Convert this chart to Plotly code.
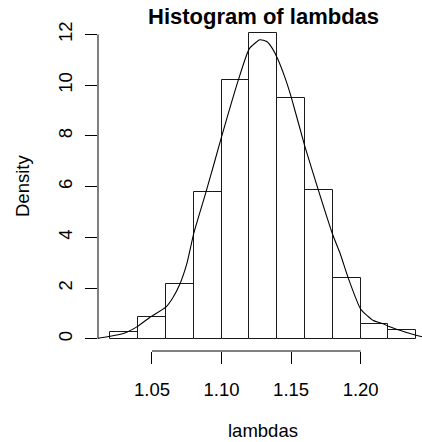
import plotly.graph_objects as go

# Histogram data (density scale)
bin_edges = [1.02, 1.04, 1.06, 1.08, 1.10, 1.12, 1.14, 1.16, 1.18, 1.20, 1.22, 1.24]
densities = [0.25, 0.85, 2.15, 5.8, 10.2, 12.05, 9.5, 5.85, 2.4, 0.6, 0.35]

# Kernel density curve
dens_x = [1.0112, 1.02, 1.03, 1.04, 1.0486, 1.06, 1.065, 1.07, 1.075, 1.08, 1.0888,
          1.0953, 1.10, 1.112, 1.12, 1.1276, 1.1325, 1.1365, 1.14, 1.1456, 1.15,
          1.16, 1.1696, 1.18, 1.1852, 1.1911, 1.20, 1.2091, 1.2163, 1.2204, 1.233, 1.2441]
dens_y = [0.02, 0.1, 0.22, 0.5, 0.85, 1.25, 1.62, 2.15, 2.95, 4.15, 5.78,
          7.04, 7.96, 10.19, 11.44, 11.79, 11.72, 11.45, 11.08, 10.3, 9.55,
          7.57, 5.86, 4.09, 3.37, 2.39, 1.17, 0.72, 0.59, 0.48, 0.25, 0.08]

x_ticks = [1.05, 1.10, 1.15, 1.20]
x_tick_labels = ["1.05", "1.10", "1.15", "1.20"]
y_ticks = [0, 2, 4, 6, 8, 10, 12]
y_tick_labels = ["0", "2", "4", "6", "8", "10", "12"]

title_text = "Histogram of lambdas"
x_label = "lambdas"
y_label = "Density"

FONT = "Liberation Sans, Arial, Helvetica, sans-serif"
W, H = 422, 442
ML, MR, MT, MB = 98, 0, 20.5, 91

centers = [(a + b) / 2 for a, b in zip(bin_edges[:-1], bin_edges[1:])]
widths = [b - a for a, b in zip(bin_edges[:-1], bin_edges[1:])]

fig = go.Figure()
fig.add_trace(go.Bar(
    x=centers, y=densities, width=widths,
    marker=dict(color="white", line=dict(color="#1a1a1a", width=1)),
    hoverinfo="skip", showlegend=False,
))
fig.add_trace(go.Scatter(
    x=dens_x, y=dens_y, mode="lines",
    line=dict(color="black", width=1.1, shape="spline", smoothing=0.5),
    hoverinfo="skip", showlegend=False,
))

# R-style axis lines spanning only the tick range
fig.add_shape(type="line", xref="x", yref="paper", x0=x_ticks[0], x1=x_ticks[-1], y0=0, y1=0,
              line=dict(color="black", width=1))
fig.add_shape(type="line", xref="paper", yref="y", x0=0, x1=0, y0=y_ticks[0], y1=y_ticks[-1],
              line=dict(color="black", width=1))

plot_w = W - ML - MR
r_center_px = 263.3  # centre of R's plot region
cx = (r_center_px - ML) / plot_w

fig.add_annotation(text="<b>" + title_text + "</b>", xref="paper", yref="paper",
                   x=cx, y=1, yanchor="middle", xanchor="center", yshift=MT - 16,
                   showarrow=False, font=dict(family=FONT, size=22, color="black"))
fig.add_annotation(text=x_label, xref="paper", yref="paper", x=cx, y=0,
                   yanchor="middle", xanchor="center", yshift=-79,
                   showarrow=False, font=dict(family=FONT, size=18.5, color="black"))
fig.add_annotation(text=y_label, xref="paper", yref="paper", x=0, y=0.5,
                   yanchor="middle", xanchor="center", xshift=-76, textangle=-90,
                   showarrow=False, font=dict(family=FONT, size=18.5, color="black"))

fig.update_layout(
    width=W, height=H,
    margin=dict(l=ML, r=MR, t=MT, b=MB, pad=0),
    paper_bgcolor="white", plot_bgcolor="white",
    bargap=0,
    font=dict(family=FONT, size=18.5, color="black"),
    xaxis=dict(range=[1.0112, 1.2441], tickvals=x_ticks, ticktext=x_tick_labels,
               ticks="outside", ticklen=12, tickwidth=1, tickcolor="black",
               showgrid=False, zeroline=False, showline=False,
               ticklabelstandoff=10, tickfont=dict(family=FONT, size=18.5)),
    yaxis=dict(range=[-0.482, 12.53], tickvals=y_ticks, ticktext=y_tick_labels,
               ticks="outside", ticklen=12, tickwidth=1, tickcolor="black",
               showgrid=False, zeroline=False, showline=False, tickangle=-90,
               ticklabelstandoff=6, tickfont=dict(family=FONT, size=18.5)),
)

fig.write_html("out.html")
